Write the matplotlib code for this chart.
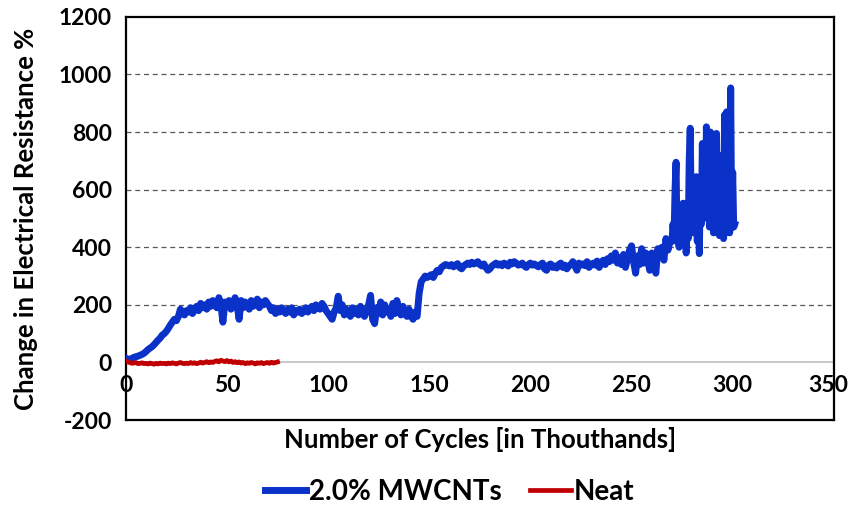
import numpy as np
import matplotlib
matplotlib.use("Agg")
import matplotlib.pyplot as plt
import matplotlib.transforms as mtransforms

# Change in electrical resistance (%) vs. number of cycles (thousands)

# 2.0% MWCNTs, one reading per thousand cycles from 0 to 269
mwcnt_a = [
    15, 10, 12, 14, 18, 20, 22, 25, 28, 32,
    38, 45, 50, 55, 62, 70, 78, 85, 95, 100,
    108, 118, 130, 140, 150, 145, 160, 185, 170, 165,
    180, 175, 190, 170, 185, 195, 180, 205, 190, 200,
    185, 210, 195, 215, 200, 190, 225, 200, 140, 210,
    195, 215, 185, 205, 225, 200, 150, 215, 190, 210,
    200, 185, 215, 195, 205, 220, 190, 210, 200, 215,
    205, 195, 180, 190, 170, 185, 175, 190, 180, 170,
    185, 175, 190, 165, 180, 175, 185, 170, 180, 190,
    175, 185, 195, 180, 200, 190, 185, 205, 195, 180,
    170, 160, 150, 175, 190, 230, 180, 200, 165, 185,
    175, 160, 190, 170, 185, 165, 195, 175, 160, 180,
    200, 233, 150, 135, 190, 170, 210, 165, 200, 175,
    185, 160, 205, 170, 215, 180, 165, 195, 170, 160,
    185, 160, 150, 175, 160, 240, 280, 290, 300, 295,
    300, 305, 295, 310, 320, 315, 330, 335, 340, 338,
    335, 340, 332, 338, 343, 330, 325, 335, 340, 345,
    340, 348, 342, 345, 350, 340, 335, 342, 330, 320,
    325, 335, 340, 345, 338, 342, 336, 345, 340, 335,
    348, 342, 350, 345, 338, 340, 345, 335, 330, 340,
    345, 338, 342, 336, 332, 340, 345, 325, 320, 338,
    342, 330, 335, 328, 340, 345, 330, 338, 325, 335,
    340, 350, 335, 320, 345, 338, 342, 336, 350, 330,
    340, 345, 338, 352, 330, 345, 355, 340, 360, 350,
    370, 355, 380, 345, 365, 340, 375, 330, 360, 390,
    405, 350, 310, 370, 340, 395, 345, 380, 355, 320,
    380, 350, 310, 395, 370, 400, 355, 430, 390, 420,
]
# final unstable part, every 500 cycles from 270 to 301
mwcnt_b = [
    420, 480, 430, 600, 695, 420, 500, 400, 470, 540,
    430, 553, 450, 538, 380, 520, 430, 700, 813, 520,
    600, 450, 622, 470, 645, 420, 600, 378, 620, 480,
    760, 500, 740, 520, 818, 500, 780, 470, 800, 495,
    760, 450, 790, 470, 795, 450, 700, 440, 713, 470,
    720, 430, 860, 450, 870, 480, 760, 450, 953, 470,
    660, 470, 480,
]
cycles_a = np.arange(0, 270)
cycles_b = np.arange(270, 301.5, 0.5)
cycles_mwcnt = np.concatenate([cycles_a, cycles_b])
res_mwcnt = np.array(mwcnt_a + mwcnt_b)

# Neat, one reading per thousand cycles from 0 to 75
neat = [
    5, 2, 0, -3, -2, 0, -4, -3, -1, -4,
    -3, -5, -2, -4, -6, -3, -5, -2, -4, -3,
    -5, -2, -4, -1, -3, -5, -2, 0, -3, -4,
    -2, -4, 0, -3, -1, -4, -2, 1, -2, 0,
    3, -1, 2, 0, 4, 6, 2, 8, 5, 3,
    7, 2, 5, 0, 3, -1, 2, -2, 0, -4,
    -1, -3, 0, -2, -5, -1, -3, 0, -4, -2,
    0, -3, 1, -2, 0, 2,
]
cycles_neat = np.arange(0, len(neat))

x_ticks = [0, 50, 100, 150, 200, 250, 300, 350]
y_ticks = [-200, 0, 200, 400, 600, 800, 1000, 1200]

plt.rcParams['font.family'] = ['Lato', 'DejaVu Sans']
plt.rcParams['font.weight'] = 'bold'
plt.rcParams['axes.labelweight'] = 'bold'
plt.rcParams['axes.unicode_minus'] = False
tick_size = 16.5
label_size = 18.5

fig = plt.figure(figsize=(8.5, 5.08), dpi=100)
ax = fig.add_axes([0.148, 0.173, 0.833, 0.794])

ax.plot(cycles_mwcnt, res_mwcnt, color="#0A32C8", lw=5.0, label="2.0% MWCNTs",
        solid_joinstyle="round", zorder=3)
ax.plot(cycles_neat, neat, color="#C00000", lw=3.4, label="Neat", zorder=4)

ax.set_xlim(0, 350)
ax.set_ylim(-200, 1200)
ax.set_yticks(y_ticks)
for v in y_ticks[2:-1]:
    ax.axhline(v, color="#595959", lw=0.9, ls=(0, (4, 3)), zorder=1)

for s in ax.spines.values():
    s.set_linewidth(1.6)
    s.set_color("black")

ax.tick_params(axis="y", length=0, pad=10, labelsize=tick_size)
ax.set_xticks(x_ticks)
ax.tick_params(axis="x", length=0, labelbottom=False)

# horizontal axis crosses at 0, labels sit next to it
secax = ax.secondary_xaxis(200 / 1400)
secax.set_xticks(x_ticks)
secax.tick_params(length=0, pad=9, labelsize=tick_size)
secax.spines["bottom"].set_color("#BFBFBF")
secax.spines["bottom"].set_linewidth(1.2)

for lab in ax.get_yticklabels() + secax.get_xticklabels():
    lab.set_fontweight("bold")
# last label is pulled in a little so it stays inside the picture
last = secax.get_xticklabels()[-1]
last.set_transform(last.get_transform()
                   + mtransforms.ScaledTranslation(-6 / 100, 0, fig.dpi_scale_trans))

ax.set_xlabel("Number of Cycles [in Thouthands]", fontsize=label_size, labelpad=5)
ax.set_ylabel("Change in Electrical Resistance %", fontsize=label_size, labelpad=15)

fig.legend(loc="center", bbox_to_anchor=(0.529, 0.032), ncol=2, frameon=False,
           fontsize=20, handlelength=1.5, handletextpad=0.1,
           columnspacing=1.0)

fig.savefig("out.png", dpi=100)
